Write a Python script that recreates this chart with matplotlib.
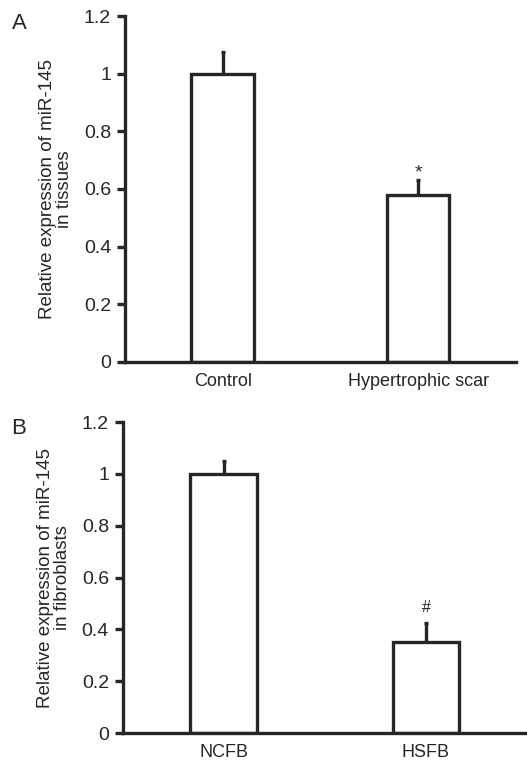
import matplotlib.pyplot as plt

plt.rcParams['font.family'] = ['Liberation Sans', 'DejaVu Sans']

# panel A - tissues
groups_a = ["Control", "Hypertrophic scar"]
means_a = [1.0, 0.58]
errs_a = [0.075, 0.05]
marks_a = ["", "*"]

# panel B - fibroblasts
groups_b = ["NCFB", "HSFB"]
means_b = [1.0, 0.35]
errs_b = [0.05, 0.075]
marks_b = ["", "#"]

yticks = [0, 0.2, 0.4, 0.6, 0.8, 1.0, 1.2]
ytick_labels = ["0", "0.2", "0.4", "0.6", "0.8", "1", "1.2"]

ink = "#262626"
lw = 2.4

fig = plt.figure(figsize=(5.27, 7.62), dpi=100)
ax_a = fig.add_axes([0.237, 0.525, 0.742, 0.454])
ax_b = fig.add_axes([0.233, 0.038, 0.767, 0.408])


def draw_panel(ax, groups, means, errs, marks, ylabel, width):
    x = list(range(len(groups)))
    ax.bar(x, means, width=width, color="white", edgecolor=ink, linewidth=lw, zorder=2)
    ax.errorbar(x, means, yerr=[[0] * len(errs), errs], fmt="none", ecolor=ink,
                elinewidth=lw, capsize=1.5, capthick=lw, zorder=1)
    for xi, m, e, s in zip(x, means, errs, marks):
        if s == "*":
            ax.text(xi, m + e - 0.005, s, ha="center", va="bottom", fontsize=14, color=ink)
        elif s:
            ax.text(xi, m + e + 0.03, s, ha="center", va="bottom", fontsize=11.5, color=ink)
    ax.set_xlim(-0.5, 1.5)
    ax.set_ylim(0, 1.2)
    ax.set_yticks(yticks)
    ax.set_yticklabels(ytick_labels)
    ax.set_xticks(x)
    ax.set_xticklabels(groups)
    ax.tick_params(axis="x", length=0, pad=8, labelsize=13, colors=ink)
    ax.tick_params(axis="y", length=6, width=lw, pad=4, labelsize=14, colors=ink)
    for side in ["top", "right"]:
        ax.spines[side].set_visible(False)
    for side in ["left", "bottom"]:
        ax.spines[side].set_linewidth(lw)
        ax.spines[side].set_color(ink)
    ax.set_ylabel(ylabel, fontsize=13.5, color=ink, labelpad=8, linespacing=1.0)


draw_panel(ax_a, groups_a, means_a, errs_a, marks_a,
           "Relative expression of miR-145\nin tissues", 0.32)
draw_panel(ax_b, groups_b, means_b, errs_b, marks_b,
           "Relative expression of miR-145\nin fibroblasts", 0.33)

fig.text(0.022, 0.962, "A", fontsize=16, color=ink)
fig.text(0.022, 0.431, "B", fontsize=16, color=ink)

fig.savefig("out.png", dpi=100)
